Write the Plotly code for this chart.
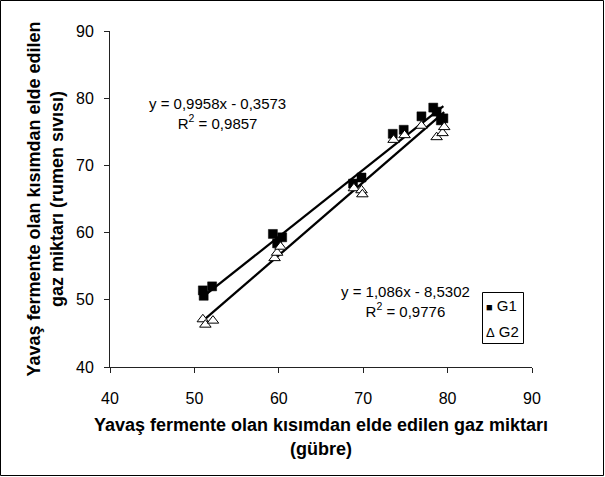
import plotly.graph_objects as go

# Gas yield from the slowly fermenting fraction: manure (x) vs rumen fluid (y)
g1_x = [51.0, 51.1, 52.1, 59.3, 59.8, 60.4, 68.8, 69.8, 73.5, 74.8, 76.9, 78.3, 78.7, 79.2, 79.5]
g1_y = [51.4, 50.6, 52.0, 59.8, 58.4, 59.3, 67.3, 68.2, 74.7, 75.3, 77.3, 78.6, 78.0, 76.7, 77.0]
g2_x = [51.0, 51.3, 52.2, 59.5, 59.8, 60.2, 68.9, 69.8, 69.9, 73.6, 74.9, 76.9, 78.7, 79.4, 79.6]
g2_y = [47.1, 46.3, 46.9, 56.2, 57.0, 57.9, 66.6, 66.3, 65.7, 73.8, 74.5, 75.9, 74.2, 74.8, 75.7]

# Linear trend coefficients (slope, intercept) and R²
g1_fit = (0.9958, -0.3573, 0.9857)
g2_fit = (1.086, -8.5302, 0.9776)

series_names = ["G1", "G2"]
legend_glyphs = ["■", "Δ"]

ticks = [40, 50, 60, 70, 80, 90]

FONT = "Liberation Sans, Arial, sans-serif"


def trend(xs, fit):
    lo, hi = min(xs), max(xs)
    return [lo, hi], [fit[0] * lo + fit[1], fit[0] * hi + fit[1]]


def eq_text(fit):
    sign = "-" if fit[1] < 0 else "+"
    slope = f"{fit[0]:g}".replace(".", ",")
    icpt = f"{abs(fit[1]):.4f}".replace(".", ",")
    r2 = f"{fit[2]:.4f}".replace(".", ",")
    return f"y = {slope}x {sign} {icpt}<br>R<sup>2</sup> = {r2}"


fig = go.Figure()

for xs, fit in ((g1_x, g1_fit), (g2_x, g2_fit)):
    lx, ly = trend(xs, fit)
    fig.add_trace(go.Scatter(x=lx, y=ly, mode="lines", showlegend=False,
                             line=dict(color="black", width=2.3), hoverinfo="skip"))

fig.add_trace(go.Scatter(x=g1_x, y=g1_y, mode="markers", name=series_names[0],
                         marker=dict(symbol="square", size=9, color="black",
                                     line=dict(color="black", width=0.5))))
fig.add_trace(go.Scatter(x=g2_x, y=g2_y, mode="markers", name=series_names[1],
                         marker=dict(symbol="triangle-up", size=10, color="white",
                                     line=dict(color="black", width=1))))

fig.add_annotation(x=52.7, y=77.7, xref="x", yref="y", text=eq_text(g1_fit),
                   showarrow=False, font=dict(family=FONT, size=15, color="black"),
                   align="center")
fig.add_annotation(x=75.0, y=49.7, xref="x", yref="y", text=eq_text(g2_fit),
                   showarrow=False, font=dict(family=FONT, size=15, color="black"),
                   align="center")

W, H = 605, 477
L, R, T, B = 110, 73, 31, 110
pw, ph = W - L - R, H - T - B


def px_x(p):
    return (p - L) / pw


def px_y(p):
    return (H - B - p) / ph


# thin frame around the whole chart
fig.add_shape(type="rect", xref="paper", yref="paper",
              x0=px_x(0.5), x1=px_x(W - 1.5), y0=px_y(H - 1.5), y1=px_y(0.5),
              line=dict(color="black", width=1))

# compact key box in the lower right of the plot
fig.add_shape(type="rect", xref="paper", yref="paper",
              x0=px_x(482.5), x1=px_x(523.5), y0=px_y(343.5), y1=px_y(292.5),
              line=dict(color="black", width=1), fillcolor="white", layer="above")
for i, (glyph, name) in enumerate(zip(legend_glyphs, series_names)):
    size = 11 if glyph == "■" else 13
    fig.add_annotation(xref="paper", yref="paper", x=px_x(484), y=px_y(305 + 26 * i),
                       xanchor="left", yanchor="middle", showarrow=False,
                       text=f"<span style='font-size:{size}px'>{glyph}</span> {name}",
                       font=dict(family=FONT, size=15, color="black"))

axis_common = dict(range=[40, 90], tickvals=ticks, showgrid=False, zeroline=False,
                   showline=True, linecolor="#222", linewidth=1, ticks="outside",
                   ticklen=5, tickcolor="#222", mirror=False,
                   tickfont=dict(family=FONT, size=16, color="black"))

fig.update_layout(
    width=W, height=H,
    margin=dict(l=L, r=R, t=T, b=B),
    paper_bgcolor="white", plot_bgcolor="white",
    xaxis=dict(**axis_common, ticklabelstandoff=12,
               title=dict(text="Yavaş fermente olan kısımdan elde edilen gaz miktarı<br>(gübre)",
                          font=dict(family=FONT, size=18, color="black", weight="bold"),
                          standoff=12)),
    yaxis=dict(**axis_common, ticklabelstandoff=7,
               title=dict(text="Yavaş fermente olan kısımdan elde edilen<br>gaz miktarı (rumen sıvısı)",
                          font=dict(family=FONT, size=18, color="black", weight="bold"),
                          standoff=7)),
    showlegend=False,
)

fig.write_html("out.html")
